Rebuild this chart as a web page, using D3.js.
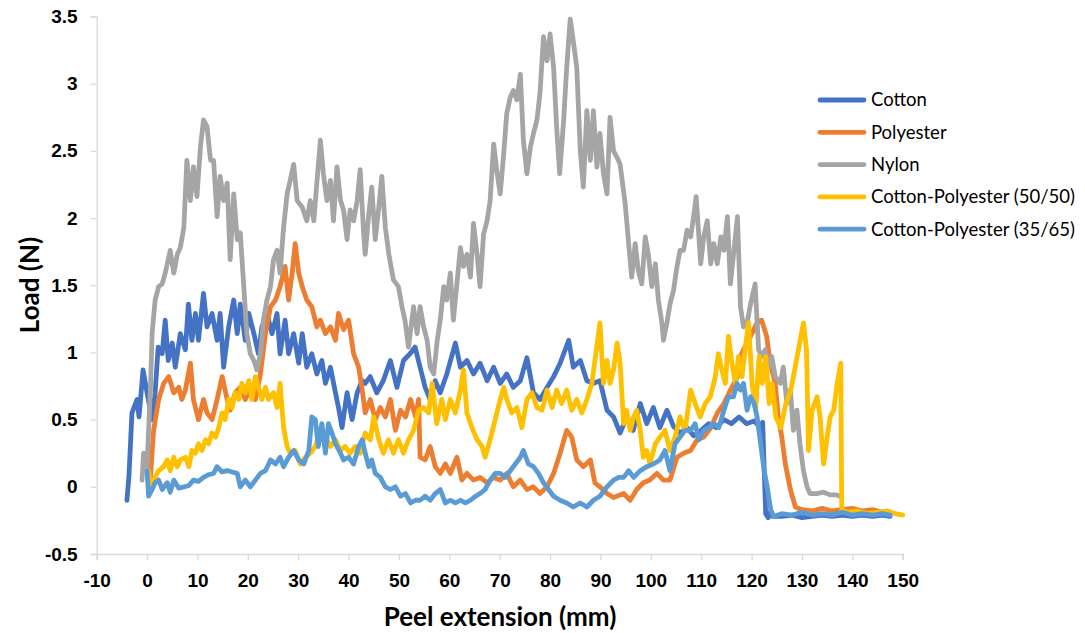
<!DOCTYPE html>
<html>
<head>
<meta charset="utf-8">
<script src="https://cdn.jsdelivr.net/npm/d3@7"></script>
<style>
    body { margin: 0; background: #fff; }
    svg { display: block; font-family: Lato, "Open Sans", sans-serif; }
    .axis .domain, .axis line { stroke: #d9d9d9; stroke-width: 1.3; }
    .axis text { font-size: 19px; font-weight: bold; fill: #000; }
    .axis-title { font-size: 26px; font-weight: bold; fill: #000; }
    .legend-text { font-size: 18.5px; fill: #000; }
    .series { fill: none; stroke-width: 4.8; stroke-linejoin: round; stroke-linecap: round; }
</style>
</head>
<body>
<div id="chart"></div>
<script>
// peel extension (mm) / load (N) pairs
var cotton = [
    [-4.0,-0.10],[-3.6,0.08],[-3.0,0.55],[-2.0,0.65],[-1.6,0.52],[-0.8,0.87],[0,0.70],[1.0,0.50],[1.6,0.70],[2.2,1.04],
    [3.0,0.99],[3.6,1.24],[4.2,0.94],[5.0,1.07],[5.6,0.89],[6.6,1.14],[7.6,1.02],[8.2,1.36],[8.9,1.09],[9.6,1.29],
    [10.2,1.09],[11.2,1.44],[11.9,1.19],[12.9,1.29],[13.9,1.09],[14.5,1.29],[15.2,0.89],[16.2,1.19],[17.2,1.39],[17.9,1.14],
    [18.5,1.36],[19.5,1.09],[20.2,1.29],[21.2,1.14],[22.1,0.99],[22.8,1.19],[23.8,1.29],[24.8,1.14],[25.8,1.29],[26.4,0.99],
    [27.4,1.24],[28.1,0.99],[29.1,1.14],[30.1,0.92],[30.8,1.14],[31.7,0.89],[32.7,0.99],[33.7,0.84],[34.7,0.94],[35.4,0.77],
    [36.4,0.89],[37.4,0.70],[38.0,0.59],[38.7,0.44],[39.7,0.70],[40.7,0.50],[41.7,0.70],[42.7,0.79],[43.3,0.77],[44.3,0.82],
    [45.6,0.70],[46.9,0.79],[48.3,0.94],[49.6,0.74],[50.9,0.94],[52.2,0.99],[53.2,1.04],[54.2,0.89],[55.2,0.74],[56.2,0.65],
    [57.2,0.79],[58.2,0.70],[59.5,0.84],[61.2,1.07],[62.2,0.89],[63.5,0.94],[64.8,0.84],[66.1,0.92],[67.5,0.79],[68.8,0.89],
    [70.1,0.77],[71.4,0.84],[72.7,0.74],[74.1,0.79],[75.4,0.96],[76.7,0.70],[78.0,0.65],[79.4,0.74],[80.7,0.82],[82.0,0.92],
    [83.7,1.09],[84.6,0.89],[86.0,0.94],[87.3,0.79],[88.6,0.77],[89.9,0.79],[91.3,0.57],[92.6,0.52],[93.9,0.40],[95.2,0.52],
    [96.5,0.42],[97.9,0.62],[99.2,0.47],[100.5,0.59],[101.8,0.44],[103.2,0.57],[104.5,0.45],[105.8,0.40],[107.2,0.44],[108.5,0.38],
    [110.0,0.42],[111.5,0.47],[113.0,0.44],[114.5,0.50],[116.0,0.47],[117.5,0.52],[119.0,0.47],[120.5,0.49],[121.5,0.45],[122.2,0.48],
    [122.8,-0.20],[123.3,-0.23],[123.8,-0.18],[124.2,-0.22],[126,-0.22],[128,-0.21],[130,-0.23],[132,-0.22],[134,-0.21],[136,-0.22],
    [138,-0.21],[140,-0.22],[142,-0.21],[144,-0.22],[146,-0.21],[147.5,-0.22]
];

var polyester = [
    [0.2,0.12],[0.6,0.03],[1.3,0.42],[2.3,0.65],[3.3,0.77],[4.3,0.82],[5.3,0.70],[6.3,0.74],[6.9,0.65],[7.6,0.72],
    [8.6,0.92],[9.2,0.65],[10.2,0.50],[11.2,0.65],[11.9,0.55],[12.9,0.50],[13.9,0.65],[14.9,0.82],[15.9,0.65],[16.5,0.57],
    [17.5,0.70],[18.5,0.74],[19.5,0.65],[20.5,0.74],[21.5,0.65],[22.5,0.84],[23.5,1.14],[24.5,1.34],[25.5,1.39],[26.4,1.49],
    [27.4,1.64],[28.1,1.39],[28.8,1.59],[29.4,1.81],[30.1,1.59],[30.8,1.49],[31.7,1.39],[32.7,1.34],[33.7,1.19],[34.4,1.24],
    [35.4,1.14],[36.4,1.19],[37.4,1.09],[38.0,1.29],[39.0,1.17],[40.0,1.24],[41.0,0.99],[42.0,0.89],[42.6,0.75],[43.3,0.55],
    [44.3,0.65],[45.3,0.50],[46.3,0.59],[47.3,0.52],[48.3,0.65],[49.3,0.42],[50.3,0.57],[51.3,0.52],[52.3,0.65],[53.3,0.52],
    [53.9,0.65],[54.2,0.22],[55.2,0.20],[56.2,0.30],[57.2,0.15],[58.2,0.10],[59.2,0.17],[60.2,0.10],[61.5,0.22],[62.5,0.05],
    [63.5,0.10],[64.8,0.05],[66.1,0.07],[67.5,0.03],[68.8,0.07],[70.1,0.05],[71.4,0.10],[72.7,0.00],[74.1,0.05],[75.4,-0.02],
    [76.7,0.00],[78.0,-0.05],[79.4,0.00],[80.7,0.10],[82.0,0.25],[83.3,0.42],[84.3,0.37],[85.3,0.20],[86.6,0.15],[88.0,0.20],
    [88.9,0.03],[89.9,0.00],[91.3,-0.05],[92.6,-0.08],[94.6,-0.05],[95.9,-0.10],[97.2,-0.02],[98.5,0.03],[99.8,0.05],[101.2,0.10],
    [102.5,0.05],[103.8,0.05],[105.2,0.22],[106.5,0.25],[107.9,0.27],[109.2,0.35],[110.5,0.37],[111.9,0.44],[113.2,0.55],[114.5,0.62],
    [115.8,0.72],[117.2,0.82],[117.8,0.97],[118.4,1.02],[119.8,1.12],[121.1,1.22],[122.0,1.24],[123.0,1.12],[123.7,0.92],[124.7,0.77],
    [125.3,0.52],[126.0,0.37],[126.7,0.17],[127.7,-0.02],[128.7,-0.15],[130,-0.17],[132,-0.18],[134,-0.16],[136,-0.18],[138,-0.17],
    [140,-0.16],[142,-0.18],[144,-0.17],[146,-0.19]
];

var nylon = [
    [-1.0,0.05],[-0.7,0.25],[0.0,0.15],[0.7,0.77],[1.0,1.14],[1.6,1.39],[2.3,1.49],[3.0,1.51],[3.6,1.59],[4.6,1.76],
    [5.3,1.59],[6.0,1.73],[6.6,1.78],[7.3,1.93],[7.9,2.43],[8.6,2.13],[9.2,2.38],[9.9,2.16],[10.6,2.53],[11.2,2.73],
    [11.9,2.68],[12.6,2.43],[13.2,2.43],[13.9,2.01],[14.5,2.31],[15.2,2.13],[15.9,2.26],[16.5,1.69],[17.2,2.18],[17.9,1.84],
    [18.5,1.89],[19.2,1.49],[19.8,1.14],[20.5,0.99],[21.2,0.94],[21.8,0.87],[22.5,0.99],[23.1,1.24],[23.8,1.39],[24.5,1.49],
    [25.1,1.69],[25.8,1.76],[26.4,1.59],[27.1,1.93],[27.8,2.18],[28.4,2.28],[29.1,2.40],[29.8,2.13],[30.8,2.08],[31.7,1.98],
    [32.4,2.13],[33.1,1.98],[33.7,2.26],[34.4,2.58],[35.0,2.33],[35.7,2.13],[36.4,2.28],[37.0,1.98],[37.7,2.38],[38.4,2.13],
    [39.0,2.06],[39.7,1.84],[40.3,2.06],[41.0,1.98],[41.7,2.13],[42.3,2.36],[43.0,1.88],[43.3,1.73],[44.0,2.03],[44.6,2.23],
    [45.3,1.84],[46.0,2.08],[46.6,2.31],[47.3,1.93],[48.0,1.73],[48.9,1.54],[49.9,1.49],[50.6,1.34],[51.2,1.24],[51.9,1.04],
    [52.9,1.34],[53.6,1.14],[54.2,1.34],[54.9,1.19],[55.6,1.09],[56.2,0.89],[56.9,0.84],[57.6,1.09],[58.2,1.24],[58.9,1.49],
    [59.5,1.39],[60.2,1.59],[60.8,1.24],[61.5,1.51],[62.2,1.78],[62.8,1.64],[63.5,1.73],[64.2,1.56],[64.8,1.96],[65.5,1.73],
    [66.1,1.49],[66.8,1.88],[67.5,1.98],[68.1,2.13],[68.8,2.55],[69.5,2.33],[70.1,2.18],[70.8,2.48],[71.4,2.78],[72.1,2.90],
    [72.7,2.95],[73.4,2.88],[74.1,3.07],[74.7,2.58],[75.4,2.33],[76.1,2.53],[76.7,2.63],[77.4,2.73],[78.0,2.93],[78.7,3.35],
    [79.4,3.17],[80.0,3.37],[80.7,3.12],[81.3,2.68],[81.9,2.33],[82.7,2.73],[83.3,3.12],[84.0,3.48],[84.6,3.32],[85.3,3.12],
    [86.0,2.50],[86.6,2.23],[87.3,2.80],[88.0,2.43],[88.6,2.80],[89.3,2.38],[89.9,2.63],[90.6,2.33],[91.3,2.18],[91.9,2.75],
    [92.6,2.50],[93.3,2.45],[93.9,2.40],[94.9,2.11],[95.6,1.81],[96.2,1.56],[96.9,1.81],[97.5,1.61],[98.2,1.51],[98.9,1.86],
    [99.5,1.73],[100.2,1.49],[100.9,1.66],[101.5,1.39],[102.2,1.22],[102.5,1.09],[103.2,1.22],[103.8,1.36],[104.5,1.46],[105.2,1.64],
    [105.8,1.76],[106.5,1.76],[107.2,1.91],[107.9,1.86],[108.5,2.01],[109.0,2.16],[109.9,1.66],[110.5,1.86],[111.2,1.98],[111.9,1.66],
    [112.5,1.81],[113.2,1.66],[113.9,1.86],[114.5,1.76],[115.2,2.01],[115.8,1.51],[116.5,1.76],[117.2,2.01],[117.8,1.34],[118.4,1.19],
    [119.1,1.22],[119.8,1.36],[120.7,1.51],[121.4,1.02],[122.0,0.97],[122.7,1.02],[123.3,0.89],[124.0,0.97],[124.7,0.82],[125.7,0.77],
    [126.3,0.89],[127.0,0.62],[127.7,0.72],[128.3,0.42],[129.0,0.57],[129.6,0.32],[130.3,0.12],[131.0,0.00],[131.6,-0.05],[133.0,-0.05],
    [134.3,-0.04],[135.6,-0.06],[136.9,-0.06],[137.5,-0.07]
];

var cp5050 = [
    [0.3,0.12],[0.7,0.00],[1.3,0.05],[2.3,0.12],[3.3,0.15],[4.0,0.20],[4.6,0.12],[5.3,0.22],[6.0,0.15],[6.6,0.20],
    [7.6,0.22],[8.3,0.15],[8.9,0.27],[9.6,0.25],[10.2,0.32],[10.9,0.27],[11.6,0.35],[12.2,0.32],[12.9,0.40],[13.6,0.37],
    [14.2,0.44],[14.9,0.55],[15.5,0.50],[16.2,0.65],[16.9,0.59],[17.5,0.70],[18.2,0.65],[18.8,0.77],[19.5,0.70],[20.2,0.79],
    [20.8,0.65],[21.5,0.82],[22.1,0.74],[22.8,0.65],[23.5,0.74],[24.1,0.65],[25.1,0.70],[25.8,0.59],[26.4,0.77],[27.1,0.44],
    [27.8,0.30],[28.4,0.25],[29.4,0.27],[30.4,0.17],[31.4,0.22],[32.4,0.25],[33.4,0.30],[34.4,0.40],[35.4,0.37],[36.4,0.30],
    [37.4,0.35],[38.4,0.27],[39.3,0.30],[40.3,0.25],[41.3,0.30],[42.3,0.25],[43.3,0.40],[44.3,0.35],[45.0,0.52],[46.0,0.35],
    [46.9,0.25],[47.9,0.35],[48.9,0.25],[49.9,0.35],[50.9,0.25],[51.9,0.35],[52.9,0.42],[53.9,0.57],[54.9,0.59],[55.9,0.55],
    [56.6,0.77],[57.5,0.47],[58.5,0.65],[59.2,0.50],[60.2,0.65],[61.2,0.55],[62.2,0.72],[62.8,0.87],[63.5,0.55],[64.5,0.44],
    [65.5,0.35],[66.5,0.30],[67.1,0.22],[68.1,0.35],[69.1,0.50],[70.1,0.65],[70.8,0.74],[71.4,0.65],[72.4,0.55],[73.4,0.59],
    [74.4,0.44],[75.4,0.65],[76.4,0.70],[77.4,0.59],[78.4,0.57],[79.4,0.72],[80.4,0.59],[81.3,0.72],[82.3,0.62],[83.3,0.72],
    [84.3,0.57],[85.3,0.65],[86.3,0.55],[87.3,0.65],[88.3,0.77],[88.9,0.94],[89.9,1.22],[90.6,0.77],[91.3,0.94],[91.9,0.77],
    [92.6,0.87],[93.3,1.07],[93.9,0.92],[94.6,0.47],[95.2,0.57],[95.9,0.42],[96.6,0.52],[97.2,0.57],[97.9,0.42],[98.5,0.22],
    [99.2,0.27],[99.8,0.17],[100.9,0.32],[101.8,0.37],[102.8,0.42],[103.8,0.27],[104.8,0.37],[105.8,0.52],[106.8,0.42],[107.9,0.72],
    [108.8,0.62],[109.8,0.52],[110.8,0.62],[111.8,0.67],[112.8,0.82],[113.4,0.99],[114.1,0.87],[114.8,0.77],[115.4,1.12],[116.1,0.92],
    [116.8,0.77],[117.4,0.97],[118.1,0.82],[118.7,1.02],[119.4,1.22],[120.1,0.77],[120.8,0.57],[121.5,0.97],[122.1,0.77],[122.8,0.97],
    [123.5,0.62],[124.1,0.77],[124.8,0.52],[125.8,0.44],[126.8,0.62],[127.8,0.72],[128.8,0.92],[129.8,1.12],[130.3,1.22],[130.9,1.02],
    [131.3,0.27],[132.0,0.57],[133.0,0.67],[133.6,0.52],[134.3,0.17],[135.0,0.37],[135.6,0.52],[136.3,0.57],[137.0,0.77],[137.7,0.92],
    [137.9,-0.17],[139,-0.19],[141,-0.18],[143,-0.20],[145,-0.19],[147,-0.18],[148.5,-0.20],[150,-0.21]
];

var cp3565 = [
    [0.0,0.12],[0.3,-0.07],[1.0,-0.02],[1.6,0.03],[2.3,0.05],[3.0,-0.02],[4.0,0.03],[4.6,-0.04],[5.3,0.05],[6.3,-0.01],
    [7.3,0.00],[8.3,0.01],[9.2,0.05],[10.2,0.04],[11.2,0.07],[12.2,0.09],[13.2,0.10],[13.9,0.15],[14.9,0.11],[15.9,0.12],
    [16.9,0.11],[17.9,0.10],[18.5,0.00],[19.5,0.05],[20.5,0.00],[21.5,0.05],[22.5,0.10],[23.5,0.12],[24.5,0.20],[25.5,0.17],
    [26.4,0.22],[27.1,0.15],[28.1,0.22],[29.1,0.27],[30.1,0.20],[31.1,0.17],[32.1,0.27],[32.7,0.52],[33.4,0.50],[34.0,0.30],
    [34.7,0.47],[35.4,0.25],[36.0,0.47],[36.7,0.40],[37.4,0.32],[38.4,0.25],[39.0,0.20],[40.0,0.22],[41.0,0.17],[42.0,0.30],
    [42.7,0.35],[43.3,0.25],[44.0,0.15],[44.6,0.20],[45.3,0.10],[46.3,0.07],[47.3,0.00],[48.3,-0.02],[49.3,0.00],[50.3,-0.07],
    [51.3,-0.05],[52.3,-0.12],[53.3,-0.10],[54.2,-0.10],[55.2,-0.07],[56.2,-0.10],[57.2,-0.05],[58.2,-0.02],[59.2,-0.12],[60.2,-0.10],
    [61.2,-0.12],[62.2,-0.10],[63.2,-0.12],[64.2,-0.10],[65.2,-0.07],[66.1,-0.05],[67.1,-0.02],[68.1,0.05],[69.1,0.10],[70.1,0.10],
    [71.1,0.07],[72.1,0.12],[73.1,0.17],[74.1,0.22],[74.7,0.27],[75.7,0.17],[76.7,0.15],[77.7,0.10],[78.7,0.03],[79.7,-0.02],
    [80.7,-0.07],[82.0,-0.10],[83.3,-0.12],[84.6,-0.15],[86.0,-0.12],[87.3,-0.15],[88.6,-0.10],[89.9,-0.07],[91.3,0.00],[92.6,0.05],
    [93.6,0.07],[94.6,0.07],[95.6,0.12],[96.6,0.07],[97.9,0.12],[99.2,0.15],[100.5,0.17],[101.8,0.20],[102.8,0.27],[103.8,0.12],
    [104.8,0.32],[105.8,0.37],[106.8,0.42],[107.9,0.42],[108.8,0.47],[109.5,0.35],[110.5,0.42],[111.5,0.44],[112.5,0.47],[113.5,0.44],
    [114.5,0.57],[115.4,0.67],[116.4,0.67],[117.1,0.77],[117.8,0.72],[118.4,0.77],[119.1,0.57],[119.8,0.67],[120.5,0.62],[121.1,0.52],
    [121.8,0.32],[122.5,0.12],[123.1,0.00],[123.8,-0.17],[124.4,-0.22],[126,-0.20],[128,-0.21],[130,-0.19],[132,-0.21],[134,-0.20],
    [136,-0.21],[138,-0.19],[140,-0.21],[142,-0.20],[144,-0.21],[146,-0.20],[147.5,-0.21]
];

var seriesNames = ["Cotton", "Polyester", "Nylon", "Cotton-Polyester (50/50)", "Cotton-Polyester (35/65)"];
var seriesData = [cotton, polyester, nylon, cp5050, cp3565];
var seriesColors = ["#4472c4", "#ed7d31", "#a5a5a5", "#ffc000", "#5b9bd5"];

var xTicks = [-10, 0, 10, 20, 30, 40, 50, 60, 70, 80, 90, 100, 110, 120, 130, 140, 150];
var yTicks = [-0.5, 0, 0.5, 1, 1.5, 2, 2.5, 3, 3.5];

(function() {
    var baseWidth = 1085,
        baseHeight = 633;

    var x = d3.scaleLinear().domain([-10, 150]).range([96.7, 902.7]),
        y = d3.scaleLinear().domain([-0.5, 3.5]).range([554, 16.5]);

    var svg = d3.select("#chart")
        .append("svg")
            .attr("width", baseWidth)
            .attr("height", baseHeight)
            .attr("viewBox", "0 0 " + baseWidth + " " + baseHeight);

    // axes
    svg.append("g")
        .classed("axis", true)
        .attr("transform", "translate(0, " + y(-0.5) + ")")
        .call(d3.axisBottom(x)
            .tickValues(xTicks)
            .tickSizeOuter(0)
            .tickSize(6)
            .tickPadding(14)
            .tickFormat(function(d) { return String(d); }));

    svg.append("g")
        .classed("axis", true)
        .attr("transform", "translate(" + x(-10) + ", 0)")
        .call(d3.axisLeft(y)
            .tickValues(yTicks)
            .tickSizeOuter(0)
            .tickSize(6)
            .tickPadding(13)
            .tickFormat(function(d) { return String(d); }));

    svg.append("text")
        .classed("axis-title", true)
        .attr("x", 500)
        .attr("y", 626)
        .attr("text-anchor", "middle")
        .text("Peel extension (mm)");

    svg.append("text")
        .classed("axis-title", true)
        .attr("transform", "translate(39, 285) rotate(-90)")
        .attr("text-anchor", "middle")
        .text("Load (N)");

    // series, drawn in legend order so the last one sits on top
    var line = d3.line()
        .x(function(d) { return x(d[0]); })
        .y(function(d) { return y(d[1]); });

    svg.append("g")
        .selectAll("path")
        .data(seriesData)
        .enter()
        .append("path")
            .classed("series", true)
            .attr("d", line)
            .style("stroke", function(d, i) { return seriesColors[i]; });

    // legend
    var legendItems = svg.append("g")
        .classed("legend", true)
        .selectAll(".item")
        .data(seriesNames)
        .enter()
        .append("g")
            .classed("item", true)
            .attr("transform", function(d, idx) {
                return "translate(820, " + (100 + idx * 32.3) + ")";
            });

    legendItems.append("line")
        .attr("x1", 0)
        .attr("x2", 44)
        .style("stroke", function(d, i) { return seriesColors[i]; })
        .style("stroke-width", 4.8)
        .style("stroke-linecap", "round");

    legendItems.append("text")
        .classed("legend-text", true)
        .attr("x", 51)
        .attr("dy", "0.35em")
        .text(function(d) { return d; });
})();
</script>
</body>
</html>
